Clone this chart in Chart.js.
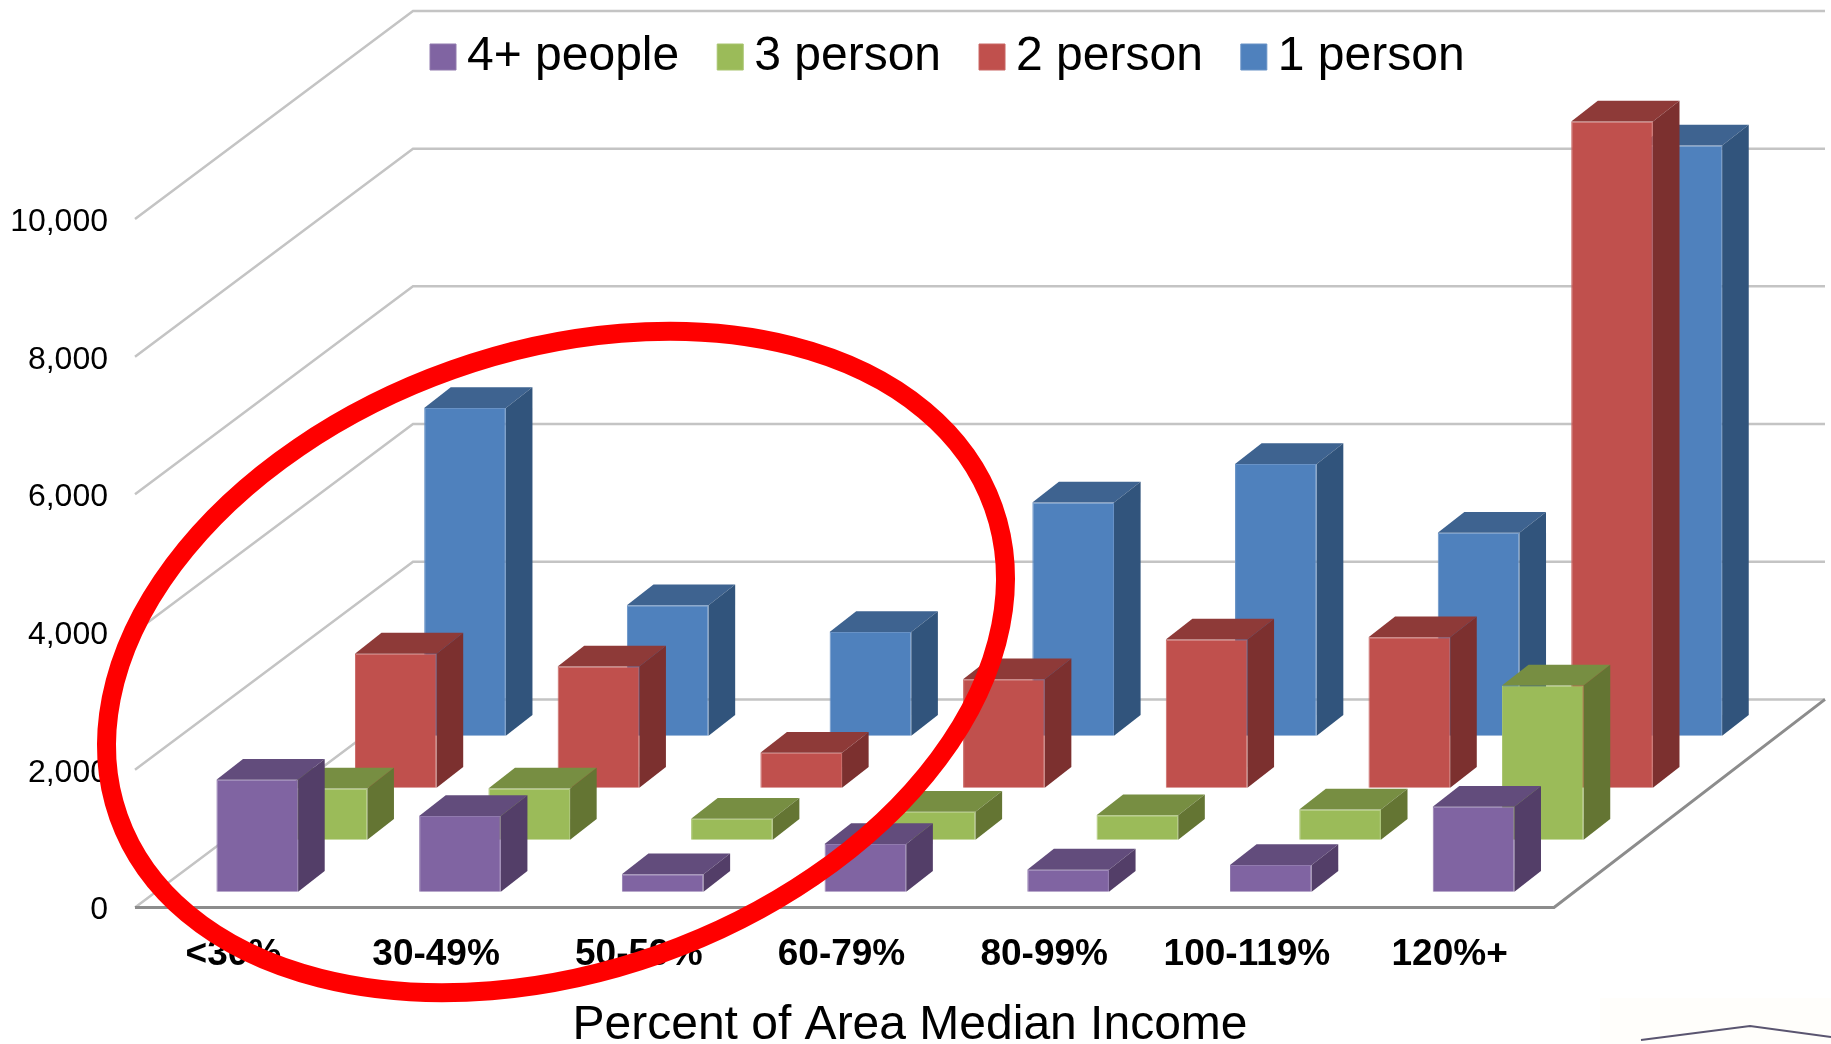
<!DOCTYPE html>
<html>
<head>
<meta charset="utf-8">
<title>Percent of Area Median Income</title>
<script src="https://cdn.jsdelivr.net/npm/chart.js@4"></script>
<style>
    html, body { margin: 0; padding: 0; background: #fff; }
    canvas { display: block; }
</style>
</head>
<body>
<canvas id="myChart" width="1831" height="1044"></canvas>
<script>
const categories = ['<30%', '30-49%', '50-59%', '60-79%', '80-99%', '100-119%', '120%+'];
const seriesNames = ['4+ people', '3 person', '2 person', '1 person'];

const people4 = [1625, 1100, 252, 693, 320, 388, 1235];
const person3 = [744, 744, 303, 405, 354, 439, 2240];
const person2 = [1947, 1761, 507, 1574, 2151, 2184, 9676];
const person1 = [4761, 1896, 1507, 3388, 3947, 2947, 8574];

const yTicks = [0, 2000, 4000, 6000, 8000, 10000];

// front, edge, top, side shades for each series
const fronts = ['#8064A2', '#9BBB59', '#C0504D', '#4F81BD'];
const edges = ['#917AAE', '#A8C46E', '#C96764', '#6892C6'];
const tops = ['#624C7C', '#778E42', '#8E3A38', '#3E6390'];
const sides = ['#533E68', '#647533', '#7C302F', '#31547C'];

// floor depth in pixels, the chart is an oblique projection
const depthX = 278;
const depthY = -208;
const barDepthX = 277;
const backRight = 1825;

function seriesOffset(i) {
    return 0.0755 + 0.25 * i;
}

function fillQuad(ctx, color, pts) {
    ctx.fillStyle = color;
    ctx.beginPath();
    ctx.moveTo(pts[0], pts[1]);
    ctx.lineTo(pts[2], pts[3]);
    ctx.lineTo(pts[4], pts[5]);
    ctx.lineTo(pts[6], pts[7]);
    ctx.closePath();
    ctx.fill();
}

const wallsPlugin = {
    id: 'walls',
    afterLayout(chart) {
        // legend and title sit off the default spots
        const legend = chart.legend;
        legend.top = -18;
        legend.bottom = legend.top + legend.height;
        legend.left = 392;
        legend.right = legend.left + legend.width;
        const title = chart.titleBlock;
        title.top = 991;
        title.bottom = title.top + title.height;
        title.left += 128;
        title.right += 128;
    },
    beforeDatasetsDraw(chart) {
        const ctx = chart.ctx;
        const area = chart.chartArea;
        const y = chart.scales.y;
        ctx.save();
        ctx.lineWidth = 2.5;
        ctx.strokeStyle = '#C4C4C4';
        for (const v of yTicks) {
            const py = y.getPixelForValue(v);
            ctx.beginPath();
            ctx.moveTo(area.left, py);
            ctx.lineTo(area.left + depthX, py + depthY);
            ctx.lineTo(backRight, py + depthY);
            ctx.stroke();
        }
        // floor edge
        ctx.strokeStyle = '#8C8C8C';
        ctx.lineWidth = 3;
        ctx.beginPath();
        ctx.moveTo(area.left, area.bottom);
        ctx.lineTo(area.right, area.bottom);
        ctx.lineTo(backRight, area.bottom + depthY);
        ctx.stroke();
        ctx.restore();
    },
    beforeDatasetDraw(chart, args) {
        const ctx = chart.ctx;
        const off = seriesOffset(args.index);
        ctx.save();
        ctx.translate(barDepthX * off, depthY * off);
    },
    afterDatasetDraw(chart, args) {
        const ctx = chart.ctx;
        const dx = barDepthX * 0.096;
        const dy = depthY * 0.1;
        for (const bar of args.meta.data) {
            const left = bar.x - bar.width / 2;
            const right = bar.x + bar.width / 2;
            fillQuad(ctx, tops[args.index], [left, bar.y, right, bar.y, right + dx, bar.y + dy, left + dx, bar.y + dy]);
            fillQuad(ctx, sides[args.index], [right, bar.y, right + dx, bar.y + dy, right + dx, bar.base + dy, right, bar.base]);
        }
        ctx.restore();
    },
    afterDraw(chart) {
        const ctx = chart.ctx;
        ctx.save();
        // red circle somebody put over the low income groups
        ctx.strokeStyle = '#FF0000';
        ctx.lineWidth = 19;
        ctx.beginPath();
        ctx.ellipse(556, 662, 464, 310, -19.5 * Math.PI / 180, 0, Math.PI * 2);
        ctx.stroke();
        // corner of the slide background
        ctx.fillStyle = '#FFFEFB';
        ctx.fillRect(1600, 998, 231, 46);
        ctx.strokeStyle = '#5A5570';
        ctx.lineWidth = 2;
        ctx.beginPath();
        ctx.moveTo(1641, 1040);
        ctx.lineTo(1750, 1026);
        ctx.lineTo(1831, 1037);
        ctx.stroke();
        ctx.restore();
    }
};

const allValues = [people4, person3, person2, person1];
const datasets = seriesNames.map((name, i) => ({
    label: name,
    data: allValues[i],
    backgroundColor: fronts[i],
    borderColor: edges[i],
    borderWidth: 1,
    grouped: false,
    barPercentage: 1,
    categoryPercentage: 0.403,
    clip: false
}));

const ctx = document.getElementById('myChart').getContext('2d');
const myChart = new Chart(ctx, {
    type: 'bar',
    data: {
        labels: categories,
        datasets: datasets
    },
    plugins: [wallsPlugin],
    options: {
        responsive: false,
        animation: false,
        layout: {
            padding: { left: 10, right: 277, top: 110, bottom: 0 }
        },
        plugins: {
            tooltip: { enabled: false },
            legend: {
                position: 'top',
                align: 'start',
                labels: {
                    usePointStyle: true,
                    pointStyle: 'rect',
                    boxWidth: 0.01,
                    boxHeight: 26,
                    padding: 51,
                    color: '#000',
                    font: { family: 'Liberation Sans', size: 48 }
                }
            },
            title: {
                display: true,
                position: 'bottom',
                text: 'Percent of Area Median Income',
                color: '#000',
                padding: { top: 6, bottom: 5 },
                font: { family: 'Liberation Sans', size: 48, weight: 'normal' }
            }
        },
        scales: {
            x: {
                grid: { display: false, drawTicks: false },
                border: { display: false },
                afterFit(scale) { scale.height = 68; },
                ticks: {
                    padding: 25,
                    labelOffset: -3,
                    color: '#000',
                    maxRotation: 0,
                    autoSkip: false,
                    font: { family: 'Liberation Sans', size: 37, weight: 'bold' }
                }
            },
            y: {
                min: 0,
                max: 10000,
                grid: { display: false, drawTicks: false },
                border: { display: false },
                afterFit(scale) { scale.width = 125; },
                afterBuildTicks(scale) { scale.ticks = yTicks.map(v => ({ value: v })); },
                ticks: {
                    padding: 27,
                    labelOffset: 3,
                    color: '#000',
                    font: { family: 'Liberation Sans', size: 32 },
                    callback: v => v.toLocaleString('en-US')
                }
            }
        }
    }
});
</script>
</body>
</html>
